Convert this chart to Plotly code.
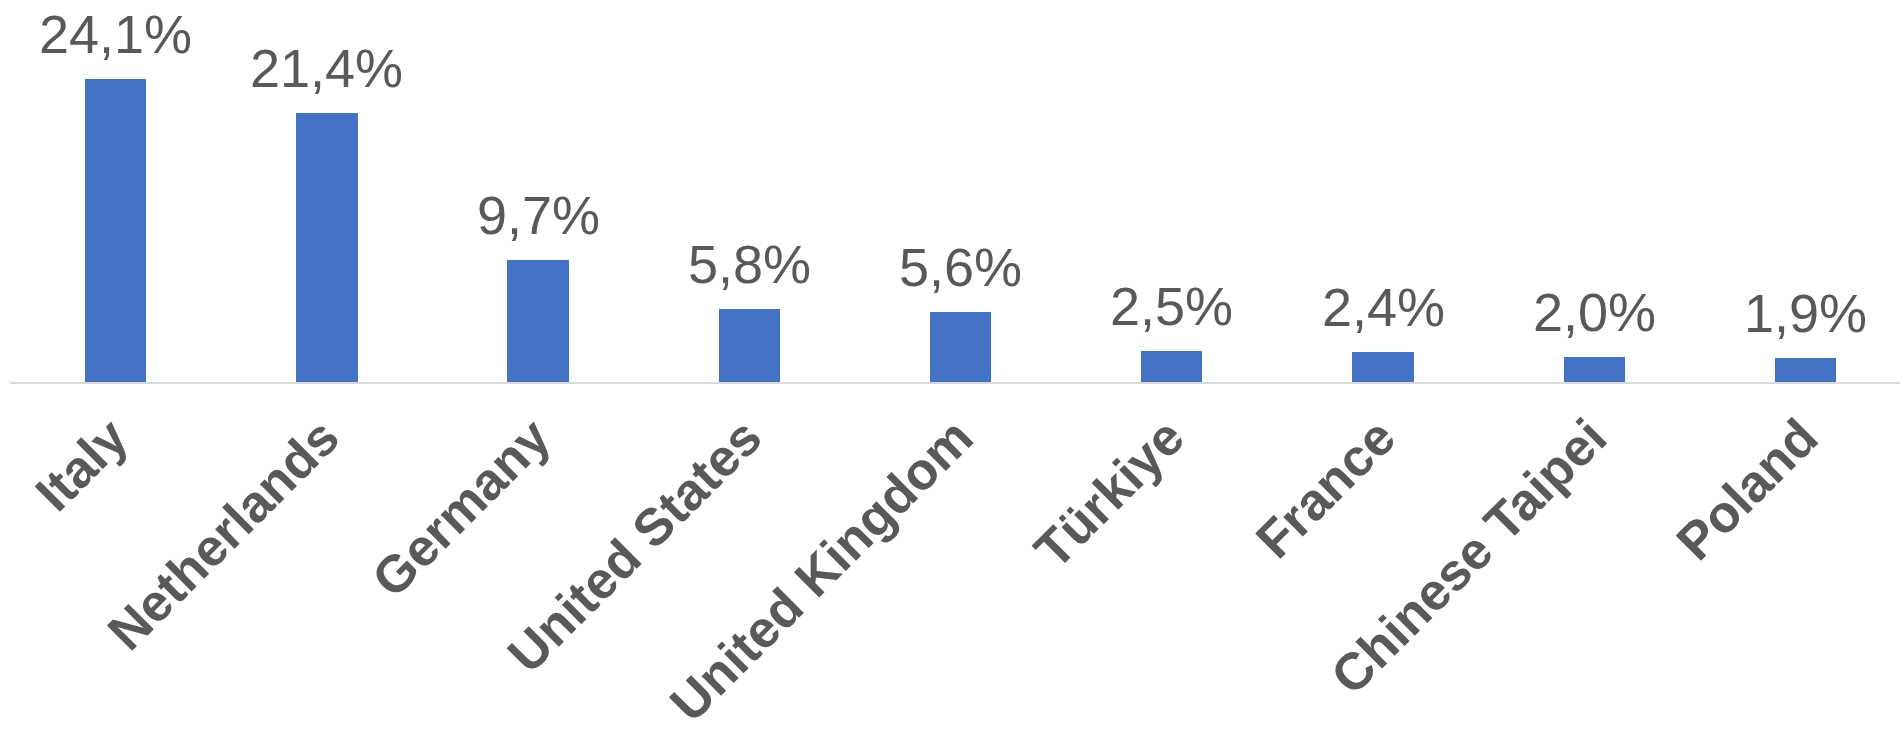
import plotly.graph_objects as go

countries = ["Italy", "Netherlands", "Germany", "United States", "United Kingdom",
             "Türkiye", "France", "Chinese Taipei", "Poland"]
shares = [24.1, 21.4, 9.7, 5.8, 5.6, 2.5, 2.4, 2.0, 1.9]
labels = ["24,1%", "21,4%", "9,7%", "5,8%", "5,6%", "2,5%", "2,4%", "2,0%", "1,9%"]

W, H = 1903, 735
fig = go.Figure()
fig.add_trace(go.Bar(
    x=countries, y=shares, width=0.29,
    marker=dict(color="#4472C4", line=dict(width=0)),
    hoverinfo="skip",
))
for c, v, t in zip(countries, shares, labels):
    fig.add_annotation(x=c, y=v, text=t, showarrow=False, yanchor="bottom",
                       yshift=13, font=dict(family="Liberation Sans, Arial", size=54, color="#595959"))

fig.update_layout(
    width=W, height=H,
    margin=dict(l=10, r=3, t=0, b=353, autoexpand=False),
    plot_bgcolor="white", paper_bgcolor="white",
    showlegend=False,
    bargap=0,
)
fig.update_xaxes(
    type="category", range=[-0.5, 8.447], automargin=False,
    showline=True, linecolor="#D9D9D9", linewidth=2,
    ticks="", tickangle=-45,
    tickfont=dict(family="Liberation Sans, Arial", size=52, color="#595959", weight="bold"),
    ticklabelstandoff=2, ticklabelshift=-3,
    showgrid=False, zeroline=False,
)
fig.update_yaxes(range=[0, 30.39], visible=False, showgrid=False, zeroline=False, automargin=False)
fig.write_html("out.html")
